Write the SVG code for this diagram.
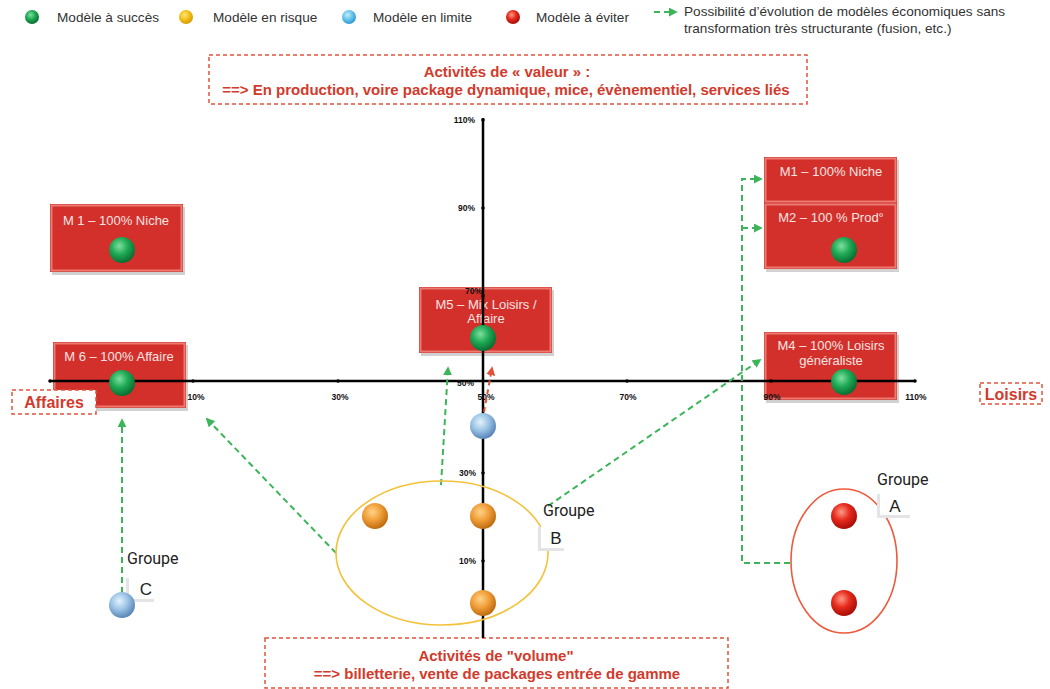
<svg xmlns="http://www.w3.org/2000/svg" width="1050" height="689" viewBox="0 0 1050 689">
<style>
.leg{font-family:"Liberation Sans",Arial,sans-serif;font-size:13.6px;fill:#333}
.hdr{font-family:"Liberation Sans",Arial,sans-serif;font-size:15px;font-weight:bold;fill:#d23a2c;text-anchor:middle}
.lbl{font-family:"Liberation Sans",Arial,sans-serif;font-size:16px;font-weight:bold;fill:#d23a2c;text-anchor:middle}
.ntx{font-family:"Liberation Sans",Arial,sans-serif;font-size:13px;fill:#f7e4e2;text-anchor:middle}
.ax{font-family:"Liberation Sans",Arial,sans-serif;font-size:8.5px;font-weight:bold;fill:#111}
.grp{font-family:Roboto,"Liberation Sans",sans-serif;font-size:16px;fill:#222}
.let{font-family:"Liberation Sans",Arial,sans-serif;font-size:17px;fill:#222;text-anchor:middle}
.dbox{fill:#fff;stroke:#e0533a;stroke-width:1.5;stroke-dasharray:4 3}
.gd{fill:none;stroke:#3cb55a;stroke-width:2;stroke-dasharray:6 4}
.box{fill:#d3302b}
.bev{fill:none;stroke:#ea7a72;stroke-width:2}
.shd{fill:#000;opacity:0.18}
</style>
<defs>
<radialGradient id="gG" cx="0.4" cy="0.35" r="0.65"><stop offset="0" stop-color="#7fe0a0"/><stop offset="0.5" stop-color="#1faa55"/><stop offset="1" stop-color="#0a6e32"/></radialGradient>
<radialGradient id="gY" cx="0.4" cy="0.35" r="0.65"><stop offset="0" stop-color="#ffe680"/><stop offset="0.5" stop-color="#f5c21b"/><stop offset="1" stop-color="#d89a08"/></radialGradient>
<radialGradient id="gO" cx="0.4" cy="0.35" r="0.65"><stop offset="0" stop-color="#ffd38a"/><stop offset="0.5" stop-color="#f1a03a"/><stop offset="1" stop-color="#c06c10"/></radialGradient>
<radialGradient id="gB" cx="0.4" cy="0.35" r="0.65"><stop offset="0" stop-color="#e4f2fc"/><stop offset="0.5" stop-color="#9cc4e6"/><stop offset="1" stop-color="#5a86b8"/></radialGradient>
<radialGradient id="gL" cx="0.4" cy="0.35" r="0.65"><stop offset="0" stop-color="#c8ecfb"/><stop offset="0.5" stop-color="#6cc6ee"/><stop offset="1" stop-color="#2f9bd0"/></radialGradient>
<radialGradient id="gR" cx="0.4" cy="0.35" r="0.65"><stop offset="0" stop-color="#ff9a88"/><stop offset="0.5" stop-color="#e62a1c"/><stop offset="1" stop-color="#a80d08"/></radialGradient>
<marker id="ag" viewBox="0 0 10 10" refX="8" refY="5" markerWidth="9" markerHeight="9" markerUnits="userSpaceOnUse" orient="auto"><path d="M0,0 L10,5 L0,10 z" fill="#3cb55a"/></marker>
<marker id="ar" viewBox="0 0 10 10" refX="8" refY="5" markerWidth="9" markerHeight="9" markerUnits="userSpaceOnUse" orient="auto"><path d="M0,0 L10,5 L0,10 z" fill="#e0533a"/></marker>
</defs>
<rect width="1050" height="689" fill="#fff"/>

<g id="legend">
<circle cx="32" cy="17" r="7" fill="url(#gG)"/><text class="leg" x="57" y="22">Modèle à succès</text>
<circle cx="186" cy="17" r="7" fill="url(#gY)"/><text class="leg" x="213" y="22">Modèle en risque</text>
<circle cx="349" cy="17" r="7" fill="url(#gL)"/><text class="leg" x="373" y="22">Modèle en limite</text>
<circle cx="513" cy="17" r="7" fill="url(#gR)"/><text class="leg" x="536" y="22">Modèle à éviter</text>
<line class="gd" x1="654" y1="12" x2="676" y2="12" stroke-dasharray="4 3" marker-end="url(#ag)"/>
<text class="leg" x="684" y="16">Possibilité d’évolution de modèles économiques sans</text>
<text class="leg" x="684" y="33">transformation très structurante (fusion, etc.)</text>
</g>

<g id="valeur">
<rect class="dbox" x="209" y="55" width="598" height="49"/>
<text class="hdr" x="507" y="77">Activités de « valeur » :</text>
<text class="hdr" x="506" y="95">==&gt; En production, voire package dynamique, mice, évènementiel, services liés</text>
</g>

<g id="volume">
<rect class="dbox" x="265" y="638" width="463" height="50"/>
<text class="hdr" x="496" y="661">Activités de "volume"</text>
<text class="hdr" x="497" y="679">==&gt; billetterie, vente de packages entrée de gamme</text>
</g>

<g id="n-m1-left">
<rect class="shd" x="52" y="207" width="133" height="68"/>
<rect class="box" x="50" y="204" width="133" height="68"/>
<rect class="bev" x="51.5" y="205.5" width="130" height="65"/>
<text class="ntx" x="116" y="225">M 1 – 100% Niche</text>
</g>
<g id="n-m6">
<rect class="shd" x="55" y="345" width="133" height="66"/>
<rect class="box" x="53" y="342" width="133" height="66"/>
<rect class="bev" x="54.5" y="343.5" width="130" height="63"/>
<text class="ntx" x="119" y="361">M 6 – 100% Affaire</text>
</g>
<g id="n-m5">
<rect class="shd" x="421" y="290" width="133" height="66"/>
<rect class="box" x="419" y="287" width="133" height="66"/>
<rect class="bev" x="420.5" y="288.5" width="130" height="63"/>
<text class="ntx" x="486" y="309">M5 – Mix Loisirs /</text>
<text class="ntx" x="486" y="323">Affaire</text>
</g>
<g id="n-m1-right">
<rect class="shd" x="766" y="160" width="133" height="112"/>
<rect class="box" x="764" y="157" width="133" height="46"/>
<rect class="bev" x="765.5" y="158.5" width="130" height="43"/>
<text class="ntx" x="831" y="176">M1 – 100% Niche</text>
</g>
<g id="n-m2">
<rect class="box" x="764" y="203" width="133" height="66"/>
<rect class="bev" x="765.5" y="204.5" width="130" height="63"/>
<text class="ntx" x="831" y="222">M2 – 100 % Prod°</text>
</g>
<g id="n-m4">
<rect class="shd" x="766" y="335" width="133" height="68"/>
<rect class="box" x="764" y="332" width="133" height="68"/>
<rect class="bev" x="765.5" y="333.5" width="130" height="65"/>
<text class="ntx" x="831" y="350">M4 – 100% Loisirs</text>
<text class="ntx" x="831" y="365">généraliste</text>
</g>

<g id="axes">
<line x1="50" y1="381" x2="915" y2="381" stroke="#000" stroke-width="2.5"/>
<line x1="483" y1="118" x2="483" y2="638" stroke="#000" stroke-width="2.5"/>
<g fill="#000">
<circle cx="193" cy="381" r="1.8"/><circle cx="338" cy="381" r="1.8"/><circle cx="627" cy="381" r="1.8"/><circle cx="771" cy="381" r="1.8"/><circle cx="50" cy="381" r="1.8"/><circle cx="915" cy="381" r="1.8"/>
<circle cx="483" cy="120" r="1.8"/><circle cx="483" cy="208" r="1.8"/><circle cx="483" cy="296" r="1.8"/><circle cx="483" cy="473" r="1.8"/><circle cx="483" cy="561" r="1.8"/>
</g>
<g class="ax" text-anchor="end">
<text x="475" y="123">110%</text>
<text x="475" y="211">90%</text>
<text x="482" y="293.5">70%</text>
<text x="474" y="386">50%</text>
<text x="476" y="476">30%</text>
<text x="476" y="564">10%</text>
</g>
<g class="ax" text-anchor="middle">
<text x="196" y="400">10%</text>
<text x="340" y="400">30%</text>
<text x="486" y="400">50%</text>
<text x="628" y="400">70%</text>
<text x="772" y="400">90%</text>
<text x="916" y="400">110%</text>
</g>
</g>

<g id="lbl-affaires">
<rect class="dbox" x="12" y="390" width="84" height="24"/>
<text class="lbl" x="54" y="408">Affaires</text>
</g>
<g id="lbl-loisirs">
<rect class="dbox" x="980" y="383" width="62" height="21"/>
<text class="lbl" x="1011" y="400">Loisirs</text>
</g>

<g id="connectors">
<line class="gd" x1="122" y1="593" x2="122" y2="420" marker-end="url(#ag)"/>
<line class="gd" x1="336" y1="553" x2="207" y2="419" marker-end="url(#ag)"/>
<line class="gd" x1="441" y1="485" x2="448" y2="368" marker-end="url(#ag)"/>
<line class="gd" x1="548" y1="506" x2="760" y2="360" marker-end="url(#ag)"/>
<path class="gd" d="M790,563 H742 V179 H761" marker-end="url(#ag)"/>
<path class="gd" d="M742,228 H761" marker-end="url(#ag)"/>
<line x1="484" y1="412" x2="492" y2="368" stroke="#e0533a" stroke-width="2" stroke-dasharray="5 4" marker-end="url(#ar)"/>
</g>

<g id="group-a">
<ellipse cx="844" cy="561" rx="53" ry="72" fill="none" stroke="#ee5a3c" stroke-width="1.6"/>
<text class="grp" x="877" y="485">Groupe</text>
<rect x="877" y="494" width="33" height="24" fill="#e4e4e4"/>
<rect x="880" y="492" width="31" height="23" fill="#fff"/>
<text class="let" x="895" y="512">A</text>
</g>
<g id="group-b">
<ellipse cx="442" cy="553" rx="106" ry="72" fill="none" stroke="#f3c23a" stroke-width="1.6"/>
<text class="grp" x="543" y="516">Groupe</text>
<rect x="538" y="527" width="26" height="24" fill="#e4e4e4"/>
<rect x="541" y="525" width="24" height="23" fill="#fff"/>
<text class="let" x="556" y="544">B</text>
</g>
<g id="group-c">
<text class="grp" x="127" y="564">Groupe</text>
<rect x="126" y="578" width="28" height="24" fill="#e4e4e4"/>
<rect x="129" y="576" width="26" height="23" fill="#fff"/>
<text class="let" x="146" y="595">C</text>
</g>

<g id="b-m1"><circle cx="122" cy="250" r="13" fill="url(#gG)"/></g>
<g id="b-m6"><circle cx="122" cy="383" r="13" fill="url(#gG)"/></g>
<g id="b-m5"><circle cx="483" cy="338" r="13" fill="url(#gG)"/></g>
<g id="b-m2"><circle cx="844" cy="250" r="13" fill="url(#gG)"/></g>
<g id="b-m4"><circle cx="844" cy="382" r="13" fill="url(#gG)"/></g>
<g id="b-limit1"><circle cx="483" cy="426" r="13" fill="url(#gB)"/></g>
<g id="b-limit2"><circle cx="122" cy="605" r="13" fill="url(#gB)"/></g>
<g id="b-risk1"><circle cx="375" cy="516" r="13" fill="url(#gO)"/></g>
<g id="b-risk2"><circle cx="483" cy="516" r="13" fill="url(#gO)"/></g>
<g id="b-risk3"><circle cx="483" cy="603" r="13" fill="url(#gO)"/></g>
<g id="b-avoid1"><circle cx="844" cy="516" r="13" fill="url(#gR)"/></g>
<g id="b-avoid2"><circle cx="844" cy="603" r="13" fill="url(#gR)"/></g>
</svg>
